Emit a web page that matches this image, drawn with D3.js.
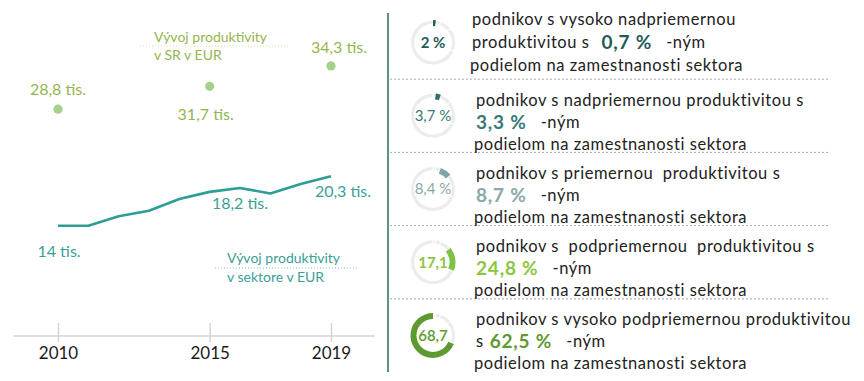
<!DOCTYPE html>
<html><head><meta charset="utf-8">
<script src="https://cdn.jsdelivr.net/npm/d3@7"></script>
<style>body{margin:0;background:#fff;} svg{display:block;font-family:Lato, "Open Sans", sans-serif;} text{white-space:pre;}</style>
</head><body><svg id="c" width="864" height="381"></svg>
<script>
// ---- data ----
const years = [2010, 2011, 2012, 2013, 2014, 2015, 2016, 2017, 2018, 2019];
const sectorValues = [14.0, 14.0, 15.2, 15.9, 17.4, 18.3, 18.8, 18.1, 19.3, 20.3];
const sectorLabelYears = [2010, 2016, 2019];
const sectorLabelTexts = ["14 tis.", "18,2 tis.", "20,3 tis."];
const srYears = [2010, 2015, 2019];
const srValues = [28.8, 31.7, 34.3];
const srLabelTexts = ["28,8 tis.", "31,7 tis.", "34,3 tis."];
const tickYears = [2010, 2015, 2019];
const srLegend = ["Vývoj produktivity", "v SR v EUR"];
const sectorLegend = ["Vývoj produktivity", "v sektore v EUR"];

const groups = ["vysoko nadpriemerná", "nadpriemerná", "priemerná", "podpriemerná", "vysoko podpriemerná"];
const firmShares = [2, 3.7, 8.4, 17.1, 68.7];
const firmShareLabels = ["2 %", "3,7 %", "8,4 %", "17,1", "68,7"];
const employmentShares = [0.7, 3.3, 8.7, 24.8, 62.5];
const employmentLabels = ["0,7 %", "3,3 %", "8,7 %", "24,8 %", "62,5 %"];
const line1Texts = ["podnikov s vysoko nadpriemernou", "podnikov s nadpriemernou produktivitou s",
  "podnikov s priemernou  produktivitou s", "podnikov s  podpriemernou  produktivitou s",
  "podnikov s vysoko podpriemernou produktivitou"];
const line2Prefix = ["produktivitou s", "", "", "", "s"];
const suffixText = "-ným";
const line3Text = "podielom na zamestnanosti sektora";

// ---- styles ----
const teal = "#2e9d95", tealText = "#3a9f98";
const srDot = "#a6d18a", srText = "#93b650";
const groupColors = ["#1e5f5b", "#2f6e6a", "#7fa5a2", "#7dc243", "#5e9932"];
const valueColors = ["#1f5c58", "#3a7a76", "#8aa9a7", "#8dc63f", "#5e9a2e"];
const donutWeights = [700, 400, 400, 700, 600];
const bodySize = 16.5, bodySpacing = 0.55, valueSize = 19;

const svg = d3.select("#c");
svg.append("rect").attr("width", 864).attr("height", 381).attr("fill", "#fff");

// ---- left chart ----
const x = d3.scaleLinear().domain([2010, 2019]).range([58, 331]);
const y = d3.scaleLinear().domain([0, 40]).range([336, 21]);

const axis = d3.axisBottom(x).tickValues(tickYears).tickFormat(d3.format("d"))
  .tickSizeInner(-13).tickSizeOuter(0).tickPadding(11);
const ag = svg.append("g").attr("transform", `translate(0,${y(0)})`).call(axis);
ag.select(".domain").remove();
ag.selectAll(".tick line").attr("stroke", "#d4d4d4").attr("stroke-width", 1.5).attr("y2", 6).attr("y1", -13);
ag.selectAll(".tick text").attr("fill", "#1a1a1a").attr("font-size", 17).attr("font-family", "Lato");
svg.append("line").attr("x1", 13).attr("x2", 375).attr("y1", y(0)).attr("y2", y(0))
  .attr("stroke", "#d4d4d4").attr("stroke-width", 1.5);

svg.append("path").datum(years.map((yr, i) => [yr, sectorValues[i]]))
  .attr("fill", "none").attr("stroke", teal).attr("stroke-width", 2.6).attr("stroke-linejoin", "round")
  .attr("d", d3.line().x(d => x(d[0])).y(d => y(d[1])));

const secOff = [[1, 31], [0, 21], [12, 21]];
svg.selectAll(".seclab").data(sectorLabelYears).join("text")
  .attr("x", (d, i) => x(d) + secOff[i][0])
  .attr("y", (d, i) => y(sectorValues[years.indexOf(d)]) + secOff[i][1])
  .attr("text-anchor", "middle").attr("font-size", 16).attr("fill", tealText)
  .text((d, i) => sectorLabelTexts[i]);

svg.selectAll(".srdot").data(srYears).join("circle")
  .attr("cx", d => x(d)).attr("cy", (d, i) => y(srValues[i])).attr("r", 4.6).attr("fill", srDot);
const srOff = [[0, -14], [-4, 34], [8, -13]];
svg.selectAll(".srlab").data(srYears).join("text")
  .attr("x", (d, i) => x(d) + srOff[i][0])
  .attr("y", (d, i) => y(srValues[i]) + srOff[i][1])
  .attr("text-anchor", "middle").attr("font-size", 16).attr("fill", srText)
  .text((d, i) => srLabelTexts[i]);

// legends
svg.append("line").attr("x1", 140).attr("x2", 290).attr("y1", 46).attr("y2", 46)
  .attr("stroke", "#c9e2b6").attr("stroke-dasharray", "1,2");
svg.selectAll(".srleg").data(srLegend).join("text")
  .attr("x", 154).attr("y", (d, i) => 42 + i * 18).attr("font-size", 14).attr("fill", srText).text(d => d);
svg.append("line").attr("x1", 215).attr("x2", 357).attr("y1", 268).attr("y2", 268)
  .attr("stroke", "#7fc6c1").attr("stroke-dasharray", "1,2");
svg.selectAll(".secleg").data(sectorLegend).join("text")
  .attr("x", 227).attr("y", (d, i) => 263 + i * 19).attr("font-size", 14).attr("fill", tealText).text(d => d);

// ---- right panel ----
svg.append("line").attr("x1", 388).attr("x2", 388).attr("y1", 13).attr("y2", 372)
  .attr("stroke", "#5d8f8b").attr("stroke-width", 2);

const row = d3.scaleBand().domain(groups).range([6, 372]);
groups.slice(1).forEach(g => {
  svg.append("line").attr("x1", 390).attr("x2", 830).attr("y1", row(g)).attr("y2", row(g))
    .attr("stroke", "#a9a9a9").attr("stroke-dasharray", "2,2");
});

const pie = d3.pie().sort(null).value(d => d);
const arcs = pie(firmShares);
const R = 22.5;
const ringArc = d3.arc().innerRadius(R - 4).outerRadius(R);
const hiArc = d3.arc().innerRadius(R - 6).outerRadius(R);

function bodyText(xp, yc, txt) {
  return svg.append("text").attr("x", xp).attr("y", yc).attr("dy", "0.35em").attr("font-size", bodySize)
    .attr("letter-spacing", bodySpacing).attr("fill", "#222").text(txt);
}

groups.forEach((g, i) => {
  const cy = row(g) + row.bandwidth() / 2;
  const cx = 433;
  const dg = svg.append("g").attr("transform", `translate(${cx},${cy})`);
  dg.selectAll("path.ring").data(arcs).join("path").attr("class", "ring")
    .attr("d", ringArc).attr("fill", "#ececec").attr("stroke", "#fff").attr("stroke-width", 1);
  dg.append("path").attr("d", hiArc(arcs[i])).attr("fill", groupColors[i]);
  dg.append("text").attr("text-anchor", "middle").attr("dy", "0.36em")
    .attr("font-size", 15).attr("font-weight", donutWeights[i]).attr("fill", valueColors[i])
    .text(firmShareLabels[i]);

  const tx = i === 0 ? 472 : 476;
  const first = i === 0;
  const c1 = cy + (first ? -23 : -16);
  const c2 = cy + (first ? 0 : 6);
  const c3 = cy + (first ? 23 : 28);
  bodyText(tx, c1, line1Texts[i]);
  let cur = tx;
  if (line2Prefix[i]) {
    const p = bodyText(cur, c2, line2Prefix[i]);
    cur += p.node().getComputedTextLength() + (first ? 12 : 6);
  }
  const v = svg.append("text").attr("x", cur).attr("y", c2).attr("dy", "0.36em")
    .attr("font-size", valueSize).attr("font-weight", 700).attr("letter-spacing", 0.8)
    .attr("fill", valueColors[i]).text(employmentLabels[i]);
  cur += v.node().getComputedTextLength() + 14;
  bodyText(cur, c2, suffixText);
  bodyText(tx - 2, c3, line3Text);
});
</script></body></html>
